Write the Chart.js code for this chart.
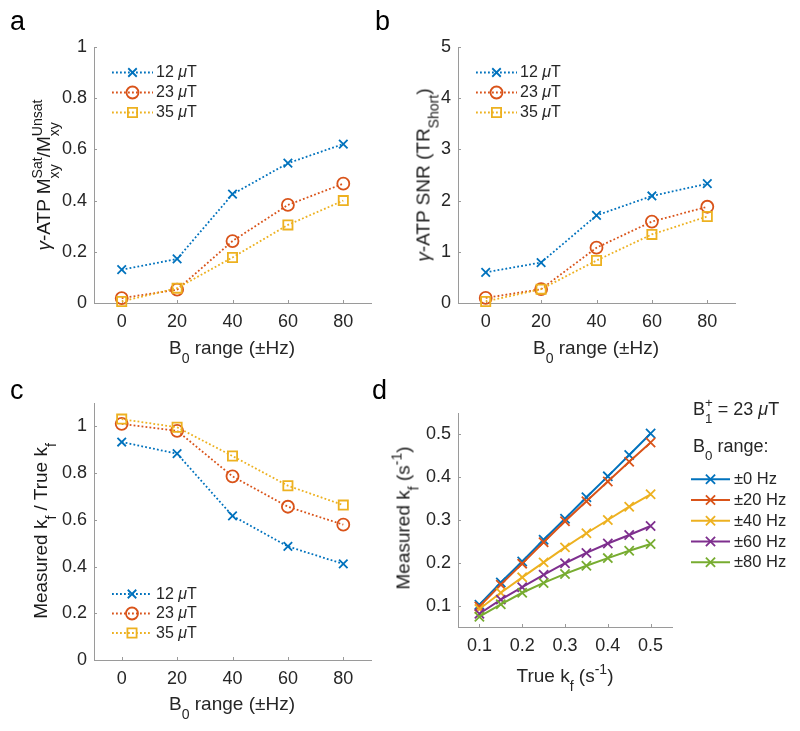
<!DOCTYPE html>
<html>
<head>
<meta charset="utf-8">
<script src="https://cdn.jsdelivr.net/npm/chart.js@4/dist/chart.umd.min.js"></script>
<style>
  body { margin: 0; background: #fff; width: 800px; height: 731px; position: relative; overflow: hidden;
         font-family: "Liberation Sans", Arial, Helvetica, sans-serif; color: #262626; }
  canvas { position: absolute; }
  .t { position: absolute; white-space: nowrap; line-height: 1; font-size: 19px; transform: translate(-50%, -50%); }
  .ty { transform: translate(-50%, -50%) rotate(-90deg); color: #1a1a1a; }
  .panel { position: absolute; font-size: 27px; line-height: 1; color: #000; }
  .hd { position: absolute; white-space: nowrap; line-height: 1; font-size: 18px; }
  .sb { font-size: 74%; position: relative; top: 0.62em; }
  .sp { font-size: 74%; position: relative; top: -0.6em; }
  .it { font-style: italic; }
</style>
</head>
<body>
<canvas id="chartA"></canvas>
<canvas id="chartB"></canvas>
<canvas id="chartC"></canvas>
<canvas id="chartD"></canvas>

<div class="panel" style="left:10px;top:8px">a</div>
<div class="panel" style="left:375px;top:8px">b</div>
<div class="panel" style="left:10px;top:377px">c</div>
<div class="panel" style="left:372px;top:377px">d</div>

<div class="t ty" style="left:43px;top:175px"><span class="it">γ</span>-ATP M<span class="sb">xy</span><span class="sp" style="margin-left:-1.0em">Sat</span>/M<span class="sb">xy</span><span class="sp" style="margin-left:-1.0em">Unsat</span></div>
<div class="t" style="left:232px;top:347px">B<span class="sb">0</span> range (±Hz)</div>

<div class="t ty" style="left:423px;top:175px"><span class="it">γ</span>-ATP SNR (TR<span class="sb">Short</span>)</div>
<div class="t" style="left:596px;top:347px">B<span class="sb">0</span> range (±Hz)</div>

<div class="t ty" style="left:40px;top:531px">Measured k<span class="sb">f</span> / True k<span class="sb">f</span></div>
<div class="t" style="left:232px;top:703px">B<span class="sb">0</span> range (±Hz)</div>

<div class="t ty" style="left:403px;top:518px">Measured k<span class="sb">f</span> (s<span class="sp">-1</span>)</div>
<div class="t" style="left:565px;top:675px">True k<span class="sb">f</span> (s<span class="sp">-1</span>)</div>

<div class="hd" style="left:693px;top:400px">B<span class="sb">1</span><span class="sp" style="margin-left:-0.556em">+</span>&nbsp;= 23 <span class="it">μ</span>T</div>
<div class="hd" style="left:693px;top:437px">B<span class="sb">0</span> range:</div>

<script>
// ---- data ----
const b0Range = [0, 20, 40, 60, 80];
const fieldLabels = ['12 μT', '23 μT', '35 μT'];

// panel a: gamma-ATP Mxy Sat / Unsat
const satRatio12 = [0.13, 0.172, 0.425, 0.546, 0.621];
const satRatio23 = [0.019, 0.052, 0.242, 0.383, 0.466];
const satRatio35 = [0.006, 0.058, 0.178, 0.305, 0.400];

// panel b: gamma-ATP SNR (TR short)
const snr12 = [0.60, 0.79, 1.71, 2.09, 2.33];
const snr23 = [0.10, 0.27, 1.08, 1.59, 1.88];
const snr35 = [0.03, 0.27, 0.83, 1.34, 1.69];

// panel c: measured kf / true kf
const kfRatio12 = [0.933, 0.883, 0.617, 0.486, 0.411];
const kfRatio23 = [1.011, 0.981, 0.786, 0.656, 0.579];
const kfRatio35 = [1.031, 0.996, 0.873, 0.746, 0.663];

// panel d: measured kf vs true kf, B1+ = 23 uT
const trueKf = [0.1, 0.15, 0.2, 0.25, 0.3, 0.35, 0.4, 0.45, 0.5];
const measKf0 = [0.102, 0.154, 0.203, 0.254, 0.303, 0.353, 0.402, 0.452, 0.502];
const measKf20 = [0.098, 0.149, 0.198, 0.248, 0.297, 0.344, 0.390, 0.436, 0.481];
const measKf40 = [0.092, 0.130, 0.166, 0.201, 0.236, 0.269, 0.300, 0.331, 0.360];
const measKf60 = [0.081, 0.114, 0.143, 0.172, 0.199, 0.223, 0.245, 0.265, 0.286];
const measKf80 = [0.074, 0.103, 0.130, 0.153, 0.174, 0.193, 0.211, 0.228, 0.244];
const offsetLabels = ['±0 Hz', '±20 Hz', '±40 Hz', '±60 Hz', '±80 Hz'];

// tick labels
const b0Ticks = [0, 20, 40, 60, 80];
const unitTicks = [0, 0.2, 0.4, 0.6, 0.8, 1];
const snrTicks = [0, 1, 2, 3, 4, 5];
const kfTicks = [0.1, 0.2, 0.3, 0.4, 0.5];

// ---- styling ----
const fontFamily = '"Liberation Sans", Arial, Helvetica, sans-serif';
const axisGray = '#9a9a9a';
const textDark = '#262626';
const matlabColors = ['#0072BD', '#D95319', '#EDB120', '#7E2F8E', '#77AC30'];
const fieldMarkers = ['crossRot', 'circle', 'rect'];
const fieldRadius = [6, 6, 6.5];

Chart.defaults.font.family = fontFamily;

function toPoints(xs, ys) {
    return xs.map((x, i) => ({ x: x, y: ys[i] }));
}

// dotted series with markers (panels a-c)
function fieldSets(series) {
    return series.map((ys, i) => ({
        label: fieldLabels[i],
        data: toPoints(b0Range, ys),
        borderColor: matlabColors[i],
        backgroundColor: 'transparent',
        borderWidth: 1.8,
        borderDash: [1.8, 2.2],
        pointStyle: fieldMarkers[i],
        pointRadius: fieldRadius[i],
        pointBorderWidth: 1.8,
        pointBorderColor: matlabColors[i],
        pointBackgroundColor: 'transparent',
        tension: 0,
        clip: false,
        order: series.length - i
    }));
}

// solid series with x markers (panel d)
function offsetSets(series) {
    return series.map((ys, i) => ({
        label: offsetLabels[i],
        data: toPoints(trueKf, ys),
        borderColor: matlabColors[i],
        backgroundColor: 'transparent',
        borderWidth: 2,
        pointStyle: 'crossRot',
        pointRadius: 6.5,
        pointBorderWidth: 1.8,
        pointBorderColor: matlabColors[i],
        pointBackgroundColor: 'transparent',
        tension: 0,
        clip: false,
        order: series.length - i
    }));
}

function axis(min, max, tickValues, isX) {
    return {
        type: 'linear',
        min: min,
        max: max,
        afterBuildTicks: s => { s.ticks = tickValues.map(v => ({ value: v })); },
        afterFit: s => { if (isX) s.height = 40; else s.width = 70; },
        grid: { display: true, drawOnChartArea: false, drawTicks: false },
        border: { display: true, color: axisGray, width: 1 },
        ticks: {
            color: textDark,
            font: { size: 18 },
            padding: isX ? 8 : 7,
            maxRotation: 0,
            callback: v => String(+v.toFixed(2))
        }
    };
}

// MATLAB style ticks pointing into the plot
const inwardTicks = {
    id: 'inwardTicks',
    beforeDatasetsDraw(chart) {
        const ctx = chart.ctx, area = chart.chartArea;
        const xs = chart.scales.x, ys = chart.scales.y;
        ctx.save();
        ctx.strokeStyle = axisGray;
        ctx.lineWidth = 1;
        ctx.beginPath();
        xs.ticks.forEach(t => {
            const px = Math.round(xs.getPixelForValue(t.value)) + 0.5;
            ctx.moveTo(px, area.bottom);
            ctx.lineTo(px, area.bottom - 3);
        });
        ys.ticks.forEach(t => {
            const py = Math.round(ys.getPixelForValue(t.value)) + 0.5;
            ctx.moveTo(area.left, py);
            ctx.lineTo(area.left + 3, py);
        });
        ctx.stroke();
        ctx.restore();
    }
};

// legend with line sample + marker, like the MATLAB one
function drawLabel(ctx, text, x, y, size) {
    let cx = x;
    text.split(/(μ)/).forEach(part => {
        if (!part) return;
        ctx.font = (part === 'μ' ? 'italic ' : '') + size + 'px ' + fontFamily;
        ctx.fillText(part, cx, y);
        cx += ctx.measureText(part).width;
    });
}

const lineKey = {
    id: 'lineKey',
    afterDraw(chart, args, opts) {
        if (!opts || opts.x === undefined) return;
        const ctx = chart.ctx, area = chart.chartArea;
        chart.data.datasets.forEach((ds, i) => {
            const y = area.top + opts.y + i * opts.dy;
            const x0 = area.left + opts.x;
            const x1 = x0 + opts.len;
            ctx.save();
            ctx.strokeStyle = ds.borderColor;
            ctx.lineWidth = ds.borderWidth;
            ctx.setLineDash(ds.borderDash || []);
            ctx.beginPath();
            ctx.moveTo(x0, y);
            ctx.lineTo(x1, y);
            ctx.stroke();
            ctx.setLineDash([]);
            ctx.lineWidth = ds.pointBorderWidth;
            ctx.fillStyle = 'rgba(0,0,0,0)';
            Chart.helpers.drawPoint(ctx, {
                pointStyle: ds.pointStyle, radius: ds.pointRadius, rotation: 0, borderWidth: ds.pointBorderWidth
            }, (x0 + x1) / 2, y);
            ctx.fillStyle = textDark;
            ctx.textBaseline = 'middle';
            ctx.textAlign = 'left';
            drawLabel(ctx, ds.label, area.left + opts.textX, y + 0.5, opts.size);
            ctx.restore();
        });
    }
};

function makePanel(id, area, padRight, xAxis, yAxis, datasets, key) {
    const yW = 70, xH = 40, padTop = 20;
    const cv = document.getElementById(id);
    cv.width = area.r - area.l + yW + padRight;
    cv.height = area.b - area.t + padTop + xH;
    cv.style.left = (area.l - yW) + 'px';
    cv.style.top = (area.t - padTop) + 'px';
    return new Chart(cv, {
        type: 'line',
        data: { datasets: datasets },
        options: {
            responsive: false,
            animation: false,
            devicePixelRatio: 1,
            layout: { padding: { top: padTop, right: padRight, left: 0, bottom: 0 } },
            scales: { x: xAxis, y: yAxis },
            plugins: { legend: { display: false }, tooltip: { enabled: false }, lineKey: key }
        },
        plugins: [inwardTicks, lineKey]
    });
}

makePanel('chartA', { l: 94, r: 371, t: 47, b: 303 }, 20,
    axis(-10, 90, b0Ticks, true), axis(0, 1, unitTicks, false),
    fieldSets([satRatio12, satRatio23, satRatio35]),
    { x: 18, y: 25.5, dy: 20, len: 41, textX: 62, size: 16 });

makePanel('chartB', { l: 458, r: 735, t: 47, b: 303 }, 20,
    axis(-10, 90, b0Ticks, true), axis(0, 5, snrTicks, false),
    fieldSets([snr12, snr23, snr35]),
    { x: 18, y: 25.5, dy: 20, len: 41, textX: 62, size: 16 });

makePanel('chartC', { l: 94, r: 371, t: 403, b: 660 }, 20,
    axis(-10, 90, b0Ticks, true), axis(0, 1.1, unitTicks, false),
    fieldSets([kfRatio12, kfRatio23, kfRatio35]),
    { x: 18, y: 191, dy: 19.5, len: 40, textX: 62, size: 16 });

makePanel('chartD', { l: 458, r: 672, t: 413, b: 627 }, 128,
    axis(0.05, 0.55, kfTicks, true), axis(0.05, 0.55, kfTicks, false),
    offsetSets([measKf0, measKf20, measKf40, measKf60, measKf80]),
    { x: 233, y: 66.3, dy: 20.75, len: 39, textX: 276, size: 16.5 });
</script>
</body>
</html>
